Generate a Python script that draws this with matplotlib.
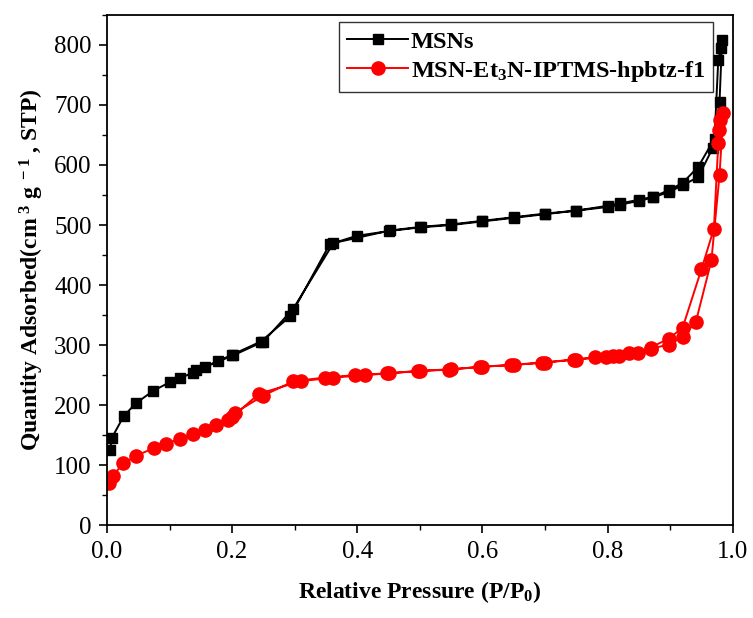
import numpy as np
import matplotlib
matplotlib.use("Agg")
from matplotlib import pyplot as plt
from matplotlib.ticker import MultipleLocator

plt.rcParams['font.family'] = ['Liberation Serif', 'DejaVu Serif']
plt.rcParams['mathtext.fontset'] = 'custom'
plt.rcParams['mathtext.rm'] = 'Liberation Serif:bold'
plt.rcParams['mathtext.bf'] = 'Liberation Serif:bold'
plt.rcParams['mathtext.it'] = 'Liberation Serif:bold'

# MSNs: adsorption branch then desorption branch
msn_p = [0.005, 0.008, 0.027, 0.046, 0.074, 0.100, 0.117, 0.137, 0.157, 0.177,
         0.200, 0.246, 0.293, 0.356, 0.399, 0.451, 0.500, 0.550, 0.600, 0.650,
         0.700, 0.750, 0.800, 0.820, 0.850, 0.873, 0.898, 0.920, 0.945, 0.968,
         0.979, 0.983,
         0.981, 0.977, 0.971, 0.945, 0.920, 0.898, 0.873, 0.850, 0.820, 0.800,
         0.750, 0.700, 0.650, 0.600, 0.550, 0.502, 0.453, 0.362, 0.298, 0.250,
         0.202, 0.143]
msn_v = [125, 146, 182, 203, 224, 238, 245, 254, 264, 273,
         284, 306, 348, 468, 482, 490, 496, 500, 506, 512,
         518, 524, 530, 534, 540, 546, 555, 566, 580, 628,
         705, 808,
         795, 775, 644, 597, 570, 558, 547, 542, 536, 532,
         524, 519, 513, 507, 501, 497, 491, 470, 361, 306,
         283, 258]

# MSN-Et3N-IPTMS-hpbtz-f1: adsorption branch then desorption branch
f1_p = [0.004, 0.009, 0.026, 0.047, 0.076, 0.094, 0.117, 0.137, 0.157, 0.175,
        0.193, 0.204, 0.250, 0.298, 0.348, 0.396, 0.447, 0.497, 0.547, 0.597,
        0.646, 0.696, 0.746, 0.780, 0.808, 0.835, 0.869, 0.898, 0.920, 0.941,
        0.966, 0.979, 0.985,
        0.980, 0.978, 0.977, 0.970, 0.950, 0.920, 0.898, 0.869, 0.849, 0.818,
        0.797, 0.750, 0.700, 0.650, 0.600, 0.550, 0.500, 0.450, 0.412, 0.362,
        0.310, 0.243, 0.200]
f1_v = [70, 82, 103, 116, 129, 136, 144, 152, 159, 167,
        176, 187, 216, 240, 246, 250, 253, 257, 259, 264,
        267, 271, 276, 280, 282, 287, 294, 301, 314, 338,
        441, 583, 686,
        675, 658, 636, 494, 426, 329, 311, 296, 287, 282,
        280, 276, 271, 267, 264, 260, 257, 253, 250, 246,
        240, 219, 180]

xticks = [0.0, 0.2, 0.4, 0.6, 0.8, 1.0]
xtick_labels = ['0.0', '0.2', '0.4', '0.6', '0.8', '1.0']

fig = plt.figure(figsize=(7.53, 6.18), dpi=100)
ax = fig.add_axes([0.142, 0.150, 0.831, 0.826])

ax.plot(msn_p, msn_v, color='black', lw=1.4, marker='s', ms=7.5,
        mec='black', mfc='black', label='MSNs')
ax.plot(f1_p, f1_v, color='red', lw=1.4, marker='o', ms=9.5,
        mec='red', mfc='red', label=r'MSN-Et$_3$N-IPTMS-hpbtz-f1')

ax.set_xlim(0, 1.0)
ax.set_ylim(0, 850)
ax.set_xticks(xticks)
ax.set_xticklabels(xtick_labels)
ax.xaxis.set_minor_locator(MultipleLocator(0.1))
ax.yaxis.set_major_locator(MultipleLocator(100))
ax.yaxis.set_minor_locator(MultipleLocator(50))

ax.tick_params(which='major', direction='out', length=6, width=1.2,
               labelsize=18, pad=5)
ax.tick_params(which='minor', direction='out', length=3.5, width=1.0)
for s in ax.spines.values():
    s.set_linewidth(1.3)

ax.set_xlabel(r'Relative Pressure (P/P$_{0}$)', fontsize=17, fontweight='bold',
              labelpad=12)
ax.set_ylabel(r'Quantity Adsorbed(cm$^{\ 3}$ g$^{\ -1}$ , STP)', fontsize=17,
              fontweight='bold', labelpad=6)

leg = ax.legend(loc='upper right', bbox_to_anchor=(0.977, 0.995),
                prop={'weight': 'bold', 'size': 17.5}, frameon=True,
                fancybox=False, edgecolor='black', handlelength=2.5,
                handletextpad=0.1, borderpad=0.35, labelspacing=0.25,
                borderaxespad=0.2)
leg.get_frame().set_linewidth(1.0)

fig.savefig('out.png', dpi=100)
